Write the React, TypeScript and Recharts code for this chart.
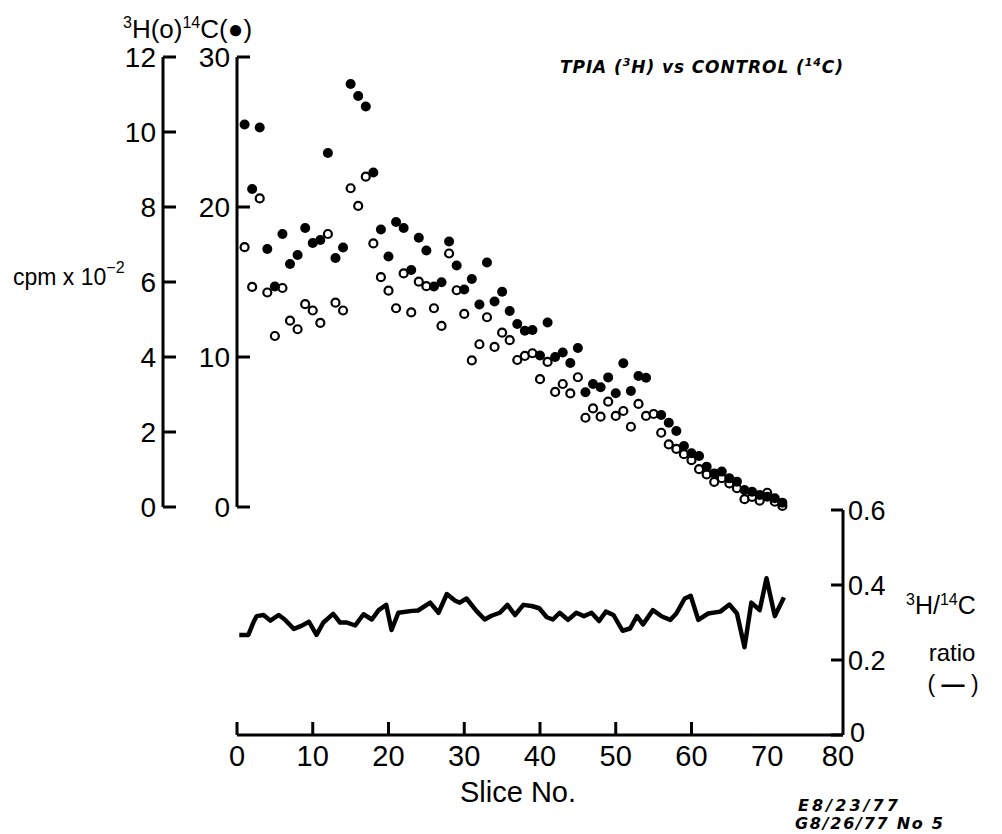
import React from 'react';
import { ScatterChart, Scatter, XAxis, YAxis, LineChart, Line } from 'recharts';

const FONT = '"Liberation Sans", Arial, sans-serif';
const NOTE_FONT = '"DejaVu Sans", sans-serif';

// Slice numbers
const slices = [
  1, 2, 3, 4, 5, 6, 7, 8, 9, 10, 11, 12, 13, 14, 15, 16, 17, 18, 19, 20,
  21, 22, 23, 24, 25, 26, 27, 28, 29, 30, 31, 32, 33, 34, 35, 36, 37, 38, 39, 40,
  41, 42, 43, 44, 45, 46, 47, 48, 49, 50, 51, 52, 53, 54, 55, 56, 57, 58, 59, 60,
  61, 62, 63, 64, 65, 66, 67, 68, 69, 70, 71, 72,
];

// 3H cpm x 10^-2 (open circles, left scale 0-12)
const tritium = [
  6.93, 5.87, 8.23, 5.72, 4.56, 5.84, 4.97, 4.74, 5.41, 5.24, 4.91, 7.28, 5.45, 5.24, 8.5, 8.03, 8.81, 7.03, 6.13, 5.77,
  5.3, 6.23, 5.19, 6.01, 5.89, 5.3, 4.83, 6.76, 5.78, 5.15, 3.91, 4.34, 5.06, 4.27, 4.65, 4.45, 3.92, 4.03, 4.1, 3.41,
  3.87, 3.07, 3.28, 3.03, 3.46, 2.38, 2.63, 2.41, 2.81, 2.43, 2.56, 2.14, 2.75, 2.43, 2.48, 1.98, 1.67, 1.55, 1.41, 1.25,
  1.01, 0.87, 0.67, 0.77, 0.63, 0.5, 0.21, 0.27, 0.17, 0.38, 0.14, 0.03,
];

// 14C cpm x 10^-2 (filled circles, scale 0-30)
const carbon: (number | null)[] = [
  25.5, 21.2, 25.3, 17.2, 14.7, 18.2, 16.2, 16.8, 18.6, 17.6, 17.8, 23.6, 16.6, 17.3, 28.2, 27.4, 26.7, 22.3, 18.5, 16.7,
  19.0, 18.6, 15.8, 17.95, 17.1, 14.7, 14.98, 17.7, 16.1, 14.5, 15.2, 13.5, 16.3, 13.7, 14.35, 13.07, 12.2, 11.75, 11.8, 10.1,
  12.3, 10.0, 10.3, 9.6, 10.6, 7.65, 8.2, 7.98, 8.64, 7.58, 9.58, 7.73, 8.73, 8.62, null, 6.13, 5.62, 5.07, 4.07, 3.58,
  3.4, 2.69, 2.24, 2.36, 1.91, 1.69, 1.13, 1.02, 0.8, 0.69, 0.58, 0.29,
];

// 3H/14C ratio line (hand-drawn vertices)
const ratioSlice = [
  0.3, 1.5, 2.2, 2.6, 3.5, 4.4, 5.5, 6.3, 7.5, 8.5, 9.5, 10.5, 11.4, 12.7, 13.6, 14.5, 15.6, 16.7, 17.8, 18.7,
  19.7, 20.4, 21.3, 23.1, 23.9, 25.5, 26.6, 27.7, 28.8, 29.4, 30.3, 31.6, 32.7, 33.6, 34.7, 35.7, 36.7, 37.8, 38.9, 39.9,
  40.9, 41.7, 42.6, 43.7, 44.8, 45.8, 46.8, 47.8, 48.7, 49.7, 50.9, 51.9, 52.8, 53.6, 54.9, 56.1, 57.2, 58.0, 59.1, 59.9,
  60.9, 62.2, 63.8, 65.0, 66.0, 67.0, 67.9, 69.0, 69.9, 71.0, 72.2,
];
const ratioValue = [
  0.267, 0.267, 0.302, 0.317, 0.32, 0.305, 0.32, 0.308, 0.283, 0.291, 0.302, 0.267, 0.3, 0.323, 0.3, 0.3, 0.292, 0.322, 0.308, 0.333,
  0.347, 0.28, 0.326, 0.331, 0.332, 0.353, 0.326, 0.376, 0.358, 0.353, 0.364, 0.331, 0.308, 0.318, 0.326, 0.347, 0.32, 0.347, 0.344, 0.338,
  0.314, 0.308, 0.326, 0.307, 0.326, 0.317, 0.326, 0.304, 0.329, 0.32, 0.278, 0.284, 0.317, 0.295, 0.333, 0.316, 0.307, 0.324, 0.364, 0.371,
  0.307, 0.324, 0.329, 0.348, 0.324, 0.234, 0.353, 0.333, 0.418, 0.317, 0.367,
];

const xTicks = [0, 10, 20, 30, 40, 50, 60, 70, 80];
const xTickMarks = [0, 10, 20, 30, 40, 50, 60];
const h3Ticks = [0, 2, 4, 6, 8, 10, 12];
const c14Ticks = [0, 10, 20, 30];
const ratioTicks = [0, 0.2, 0.4, 0.6];

const openData = slices.map((s, i) => ({ slice: s, v: tritium[i] }));
const filledData = slices
  .map((s, i) => ({ slice: s, v: carbon[i] }))
  .filter((d) => d.v !== null);
const ratioData = ratioSlice.map((s, i) => ({ slice: s, ratio: ratioValue[i] }));

const LeftTick = (props: any) => {
  const { x, y, payload } = props;
  return (
    <g>
      <line x1={x} x2={x + 13} y1={y} y2={y} stroke="#000" strokeWidth={3} />
      <text x={x - 7} y={y + 10} textAnchor="end" fontSize={28} fontFamily={FONT} fill="#000">
        {payload.value}
      </text>
    </g>
  );
};

const BottomTick = (props: any) => {
  const { x, y, payload } = props;
  const dx = payload.value === 80 ? -5 : 0;
  return (
    <g>
      {xTickMarks.includes(payload.value) && (
        <line x1={x} x2={x} y1={y - 13} y2={y} stroke="#000" strokeWidth={3} />
      )}
      <text x={x + dx} y={y + 31} textAnchor="middle" fontSize={29} fontFamily={FONT} fill="#000">
        {payload.value}
      </text>
    </g>
  );
};

const RightTick = (props: any) => {
  const { x, y, payload } = props;
  const isZero = payload.value === 0;
  const label = isZero ? '0' : Number(payload.value).toFixed(1);
  return (
    <g>
      <line x1={x - 12} x2={x} y1={y} y2={y} stroke="#000" strokeWidth={3} />
      <text
        x={x + (isZero ? 7 : 5)}
        y={y + (isZero ? 7 : 10)}
        textAnchor="start"
        fontSize={27}
        fontFamily={FONT}
        fill="#000"
      >
        {label}
      </text>
    </g>
  );
};

const OpenDot = (p: any) => (
  <circle cx={p.cx} cy={p.cy} r={4} fill="#fff" stroke="#000" strokeWidth={2.2} />
);
const FilledDot = (p: any) => <circle cx={p.cx} cy={p.cy} r={5} fill="#000" />;

const axisStyle = { stroke: '#000', strokeWidth: 3 };

export default function App() {
  return (
    <div style={{ position: 'absolute', left: 0, top: 0, width: 1002, height: 834, background: '#fff', overflow: 'hidden' }}>
      <div style={{ position: 'absolute', left: 0, top: 0 }}>
        <ScatterChart width={1002} height={540} margin={{ top: 57, right: 159, bottom: 33, left: 0 }}>
          <XAxis type="number" dataKey="slice" domain={[0, 80]} hide />
          <YAxis
            yAxisId="c14"
            type="number"
            dataKey="v"
            domain={[0, 30]}
            ticks={c14Ticks}
            interval={0}
            width={74}
            axisLine={axisStyle}
            tickLine={false}
            tickSize={0}
            tickMargin={0}
            tick={LeftTick}
          />
          <YAxis
            yAxisId="h3"
            type="number"
            dataKey="v"
            domain={[0, 12]}
            ticks={h3Ticks}
            interval={0}
            width={163}
            axisLine={axisStyle}
            tickLine={false}
            tickSize={0}
            tickMargin={0}
            tick={LeftTick}
          />
          <Scatter yAxisId="h3" data={openData} shape={OpenDot} isAnimationActive={false} />
          <Scatter yAxisId="c14" data={filledData} shape={FilledDot} isAnimationActive={false} />
        </ScatterChart>
      </div>
      <div style={{ position: 'absolute', left: 0, top: 480 }}>
        <LineChart width={1002} height={354} data={ratioData} margin={{ top: 30, right: 0, bottom: 69, left: 237 }}>
          <XAxis
            type="number"
            dataKey="slice"
            domain={[0, 80]}
            ticks={xTicks}
            interval={0}
            height={30}
            axisLine={axisStyle}
            tickLine={false}
            tickSize={0}
            tickMargin={0}
            tick={BottomTick}
          />
          <YAxis
            orientation="right"
            type="number"
            domain={[0, 0.6]}
            ticks={ratioTicks}
            interval={0}
            width={159}
            axisLine={axisStyle}
            tickLine={false}
            tickSize={0}
            tickMargin={0}
            tick={RightTick}
          />
          <Line
            type="linear"
            dataKey="ratio"
            stroke="#000"
            strokeWidth={4.5}
            strokeLinejoin="round"
            dot={false}
            isAnimationActive={false}
          />
        </LineChart>
      </div>
      <svg
        width={1002}
        height={834}
        style={{ position: 'absolute', left: 0, top: 0, pointerEvents: 'none' }}
        fontFamily={FONT}
      >
        <text x={123} y={38} fontSize={26} fill="#000">
          <tspan fontSize={16} dy={-10}>3</tspan>
          <tspan dy={10}>H(o)</tspan>
          <tspan fontSize={16} dy={-10}>14</tspan>
          <tspan dy={10}>C(●)</tspan>
        </text>
        <text x={13} y={285} fontSize={23} fill="#000">
          cpm x 10
          <tspan fontSize={16} dy={-12}>−2</tspan>
        </text>
        <text
          x={560}
          y={73}
          fontSize={17}
          fontWeight="bold"
          fontStyle="italic"
          fontFamily={NOTE_FONT}
          fill="#000"
          textLength={283}
          lengthAdjust="spacing"
        >
          TPIA (<tspan fontSize={11} dy={-7}>3</tspan>
          <tspan dy={7}>H) vs CONTROL (</tspan>
          <tspan fontSize={11} dy={-7}>14</tspan>
          <tspan dy={7}>C)</tspan>
        </text>
        <text x={518} y={802} fontSize={29} textAnchor="middle" fill="#000">
          Slice No.
        </text>
        <text x={906} y={614} fontSize={25} fill="#000">
          <tspan fontSize={16} dy={-9}>3</tspan>
          <tspan dy={9}>H/</tspan>
          <tspan fontSize={16} dy={-9}>14</tspan>
          <tspan dy={9}>C</tspan>
        </text>
        <text x={952} y={661} fontSize={24} textAnchor="middle" fill="#000">
          ratio
        </text>
        <text x={953} y={692} fontSize={23} textAnchor="middle" fill="#000">
          ( <tspan fontWeight="bold">—</tspan> )
        </text>
        <text
          x={798}
          y={811}
          fontSize={16}
          fontWeight="bold"
          fontStyle="italic"
          fontFamily={NOTE_FONT}
          fill="#000"
          textLength={100}
          lengthAdjust="spacing"
        >
          E8/23/77
        </text>
        <text
          x={795}
          y={829}
          fontSize={16}
          fontWeight="bold"
          fontStyle="italic"
          fontFamily={NOTE_FONT}
          fill="#000"
          textLength={148}
          lengthAdjust="spacing"
        >
          G8/26/77 No 5
        </text>
      </svg>
    </div>
  );
}
